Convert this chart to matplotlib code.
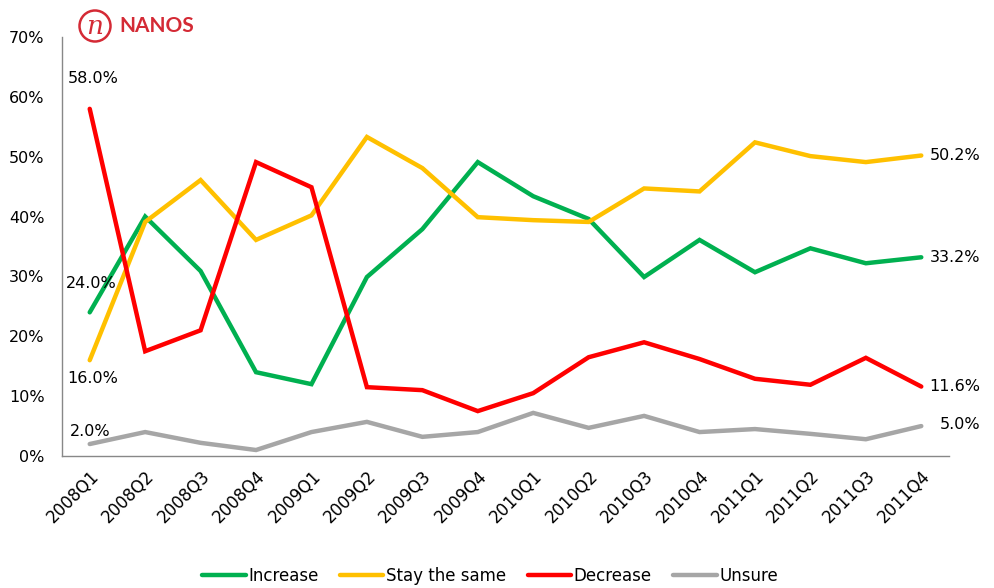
import matplotlib
matplotlib.use("Agg")
import matplotlib.pyplot as plt
from matplotlib.patches import Circle

quarters = ["2008Q1", "2008Q2", "2008Q3", "2008Q4", "2009Q1", "2009Q2", "2009Q3", "2009Q4",
            "2010Q1", "2010Q2", "2010Q3", "2010Q4", "2011Q1", "2011Q2", "2011Q3", "2011Q4"]
increase = [24.0, 40.0, 30.9, 14.0, 12.0, 29.9, 37.9, 49.1, 43.4, 39.6, 29.9, 36.1, 30.7, 34.7, 32.2, 33.2]
stay_same = [16.0, 39.1, 46.1, 36.1, 40.2, 53.3, 48.1, 39.9, 39.4, 39.1, 44.7, 44.2, 52.4, 50.1, 49.1, 50.2]
decrease = [58.0, 17.5, 21.0, 49.1, 44.9, 11.5, 11.0, 7.5, 10.5, 16.5, 19.0, 16.2, 12.9, 11.9, 16.4, 11.6]
unsure = [2.0, 4.0, 2.2, 1.0, 4.0, 5.7, 3.2, 4.0, 7.2, 4.7, 6.7, 4.0, 4.5, 3.7, 2.8, 5.0]
series_names = ["Increase", "Stay the same", "Decrease", "Unsure"]
colors = ["#00b050", "#ffc000", "#ff0000", "#a6a6a6"]
y_ticks = [0, 10, 20, 30, 40, 50, 60, 70]

plt.rcParams['font.family'] = ['DejaVu Sans']
fig = plt.figure(figsize=(9.94, 5.88), dpi=100)
ax = fig.add_axes([62/994, 1-456/588, (949-62)/994, (456-37)/588])

x = list(range(len(quarters)))
all_series = [increase, stay_same, decrease, unsure]
for vals, name, c in zip(all_series, series_names, colors):
    ax.plot(x, vals, color=c, lw=3.2, label=name, solid_capstyle='round', solid_joinstyle='miter')

ax.set_xlim(-0.5, len(quarters)-0.5)
ax.set_ylim(0, 70)
ax.set_yticks(y_ticks)
ax.set_yticklabels([f"{t}%" for t in y_ticks], fontsize=11.5)
ax.set_xticks(x)
ax.set_xticklabels(quarters, rotation=45, ha='right', rotation_mode='anchor', fontsize=12)
ax.tick_params(axis='y', length=0, pad=12.5)
ax.tick_params(axis='x', length=0, pad=8)
for s in ['top', 'right']:
    ax.spines[s].set_visible(False)
for s in ['left', 'bottom']:
    ax.spines[s].set_color('#888888')
    ax.spines[s].set_linewidth(1.0)

fs = 11.5
# left labels
ax.annotate(f"{decrease[0]:.1f}%", (0, decrease[0]), xytext=(-16, 22), textcoords='offset points', fontsize=fs, va='center', ha='left')
ax.annotate(f"{increase[0]:.1f}%", (0, increase[0]), xytext=(-17, 21), textcoords='offset points', fontsize=fs, va='center', ha='left')
ax.annotate(f"{stay_same[0]:.1f}%", (0, stay_same[0]), xytext=(-16, -13), textcoords='offset points', fontsize=fs, va='center', ha='left')
ax.annotate(f"{unsure[0]:.1f}%", (0, unsure[0]), xytext=(-14, 9), textcoords='offset points', fontsize=fs, va='center', ha='left')
# right labels
last = len(quarters) - 1
ax.annotate(f"{stay_same[-1]:.1f}%", (last, stay_same[-1]), xytext=(6, 0), textcoords='offset points', fontsize=fs, va='center', ha='left', annotation_clip=False)
ax.annotate(f"{increase[-1]:.1f}%", (last, increase[-1]), xytext=(6, 0), textcoords='offset points', fontsize=fs, va='center', ha='left', annotation_clip=False)
ax.annotate(f"{decrease[-1]:.1f}%", (last, decrease[-1]), xytext=(6, 0), textcoords='offset points', fontsize=fs, va='center', ha='left', annotation_clip=False)
ax.annotate(f"{unsure[-1]:.1f}%", (last, unsure[-1]), xytext=(13, 1), textcoords='offset points', fontsize=fs, va='center', ha='left', annotation_clip=False)

leg = fig.legend(loc='center', bbox_to_anchor=(0.493, 1-576/588), ncol=4, frameon=False,
                 fontsize=12, handlelength=2.6, handletextpad=0.15, columnspacing=1.3)

# logo
logo_red = "#d42a35"
circ = Circle((95/100, (588-26)/100), 0.155, transform=fig.dpi_scale_trans,
              fill=False, edgecolor=logo_red, lw=1.8)
fig.add_artist(circ)
fig.text(95/994, 1-27/588, "n", fontsize=19, color=logo_red, fontstyle='italic',
         family='DejaVu Serif', ha='center', va='center')
fig.text(119/994, 1-26/588, "NANOS", fontsize=15, color=logo_red, fontweight='bold',
         family=['Lato', 'DejaVu Sans'], ha='left', va='center')

fig.savefig("out.png", dpi=100)
